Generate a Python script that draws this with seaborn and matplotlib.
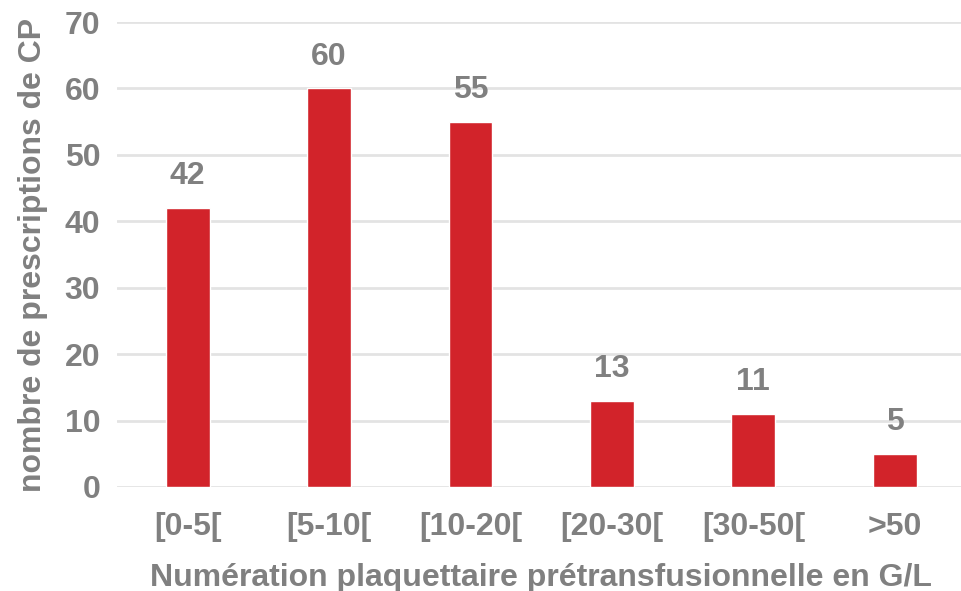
import matplotlib
matplotlib.use("Agg")
import matplotlib.pyplot as plt
import seaborn as sns
import pandas as pd

categories = ["[0-5[", "[5-10[", "[10-20[", "[20-30[", "[30-50[", ">50"]
counts = [42, 60, 55, 13, 11, 5]

df = pd.DataFrame({"classe": categories, "n": counts})

sns.set_theme(style="white")
plt.rcParams["font.family"] = ["Liberation Sans", "DejaVu Sans"]
plt.rcParams["font.weight"] = "bold"

grey = "#808080"
red = "#D2232A"

fig = plt.figure(figsize=(9.61, 5.91), dpi=100)
ax = fig.add_axes([117 / 961, 104 / 591, 848.5 / 961, 465 / 591])

sns.barplot(data=df, x="classe", y="n", color=red, width=0.31,
            saturation=1, ax=ax, zorder=3)

ax.set_ylim(0, 70)
ax.set_xlim(-0.5, 5.5)
ax.set_yticks(range(0, 71, 10))
ax.yaxis.grid(True, color="#e3e3e3", linewidth=2, zorder=0)
ax.set_axisbelow(True)
for s in ax.spines.values():
    s.set_visible(False)

ax.tick_params(axis="both", length=0, labelsize=23, labelcolor=grey)
ax.tick_params(axis="y", pad=12)
ax.tick_params(axis="x", pad=18)
for lab in ax.get_xticklabels() + ax.get_yticklabels():
    lab.set_fontweight("bold")

ax.set_xlabel("Numération plaquettaire prétransfusionnelle en G/L",
              fontsize=23, color=grey, fontweight="bold", labelpad=15)
ax.set_ylabel("nombre de prescriptions de CP",
              fontsize=23, color=grey, fontweight="bold", labelpad=12)

for i, v in enumerate(counts):
    ax.annotate(str(v), (i, v), xytext=(0, 12), textcoords="offset points",
                ha="center", va="bottom", fontsize=23, fontweight="bold",
                color=grey)

fig.savefig("out.png", dpi=100)
